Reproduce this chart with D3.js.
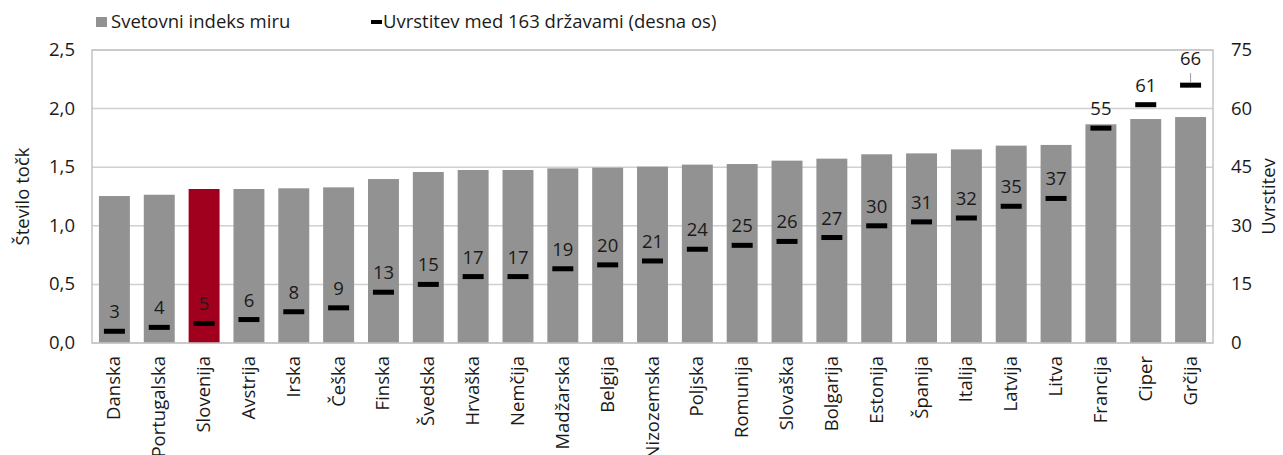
<!DOCTYPE html>
<html>
<head>
<meta charset="utf-8">
<script src="https://cdn.jsdelivr.net/npm/d3@7"></script>
<style>
  html, body { margin: 0; padding: 0; background: #fff; }
  svg { display: block; font-family: "Open Sans", "Noto Sans", sans-serif; }
</style>
</head>
<body>
<div id="chart"></div>
<script>
// Svetovni indeks miru in uvrstitev (EU države)
const countries = ['Danska', 'Portugalska', 'Slovenija', 'Avstrija', 'Irska', 'Češka', 'Finska', 'Švedska',
    'Hrvaška', 'Nemčija', 'Madžarska', 'Belgija', 'Nizozemska', 'Poljska', 'Romunija', 'Slovaška',
    'Bolgarija', 'Estonija', 'Španija', 'Italija', 'Latvija', 'Litva', 'Francija', 'Ciper', 'Grčija'];
const indexValues = [1.254, 1.265, 1.314, 1.314, 1.32, 1.328, 1.399, 1.459,
    1.476, 1.476, 1.49, 1.496, 1.505, 1.522, 1.527, 1.556,
    1.573, 1.61, 1.618, 1.652, 1.684, 1.69, 1.866, 1.911, 1.928];
const ranks = [3, 4, 5, 6, 8, 9, 13, 15, 17, 17, 19, 20, 21, 24, 25, 26, 27, 30, 31, 32, 35, 37, 55, 61, 66];
const leftTicks = [0, 0.5, 1.0, 1.5, 2.0, 2.5];
const rightTicks = [0, 15, 30, 45, 60, 75];
const highlight = 'Slovenija';

const width = 1283, height = 455;
const margin = {top: 50, right: 70, bottom: 112, left: 92};
const plotW = width - margin.left - margin.right;
const plotH = height - margin.top - margin.bottom;
const fs = '18.5px';

const svg = d3.select('#chart').append('svg')
    .attr('width', width)
    .attr('height', height);

const x = d3.scaleBand().domain(countries).range([margin.left, margin.left + plotW]).paddingInner(0.31).paddingOuter(0.155);
const yL = d3.scaleLinear().domain([0, 2.5]).range([margin.top + plotH, margin.top]);
const yR = d3.scaleLinear().domain([0, 75]).range([margin.top + plotH, margin.top]);

const fmt = d => d3.format('.1f')(d).replace('.', ',');

// gridlines
svg.append('g')
    .selectAll('line')
    .data(leftTicks)
    .enter()
    .append('line')
    .attr('x1', margin.left)
    .attr('x2', margin.left + plotW)
    .attr('y1', d => yL(d))
    .attr('y2', d => yL(d))
    .attr('stroke', '#d0d0d0')
    .attr('stroke-width', 1.5);

// bars
svg.append('g')
    .selectAll('rect')
    .data(countries)
    .enter()
    .append('rect')
    .attr('x', d => x(d))
    .attr('width', x.bandwidth())
    .attr('y', (d, i) => yL(indexValues[i]))
    .attr('height', (d, i) => yL(0) - yL(indexValues[i]))
    .attr('fill', d => d === highlight ? '#a0001e' : '#929292');

// plot frame
svg.append('rect')
    .attr('x', margin.left)
    .attr('y', margin.top)
    .attr('width', plotW)
    .attr('height', plotH)
    .attr('fill', 'none')
    .attr('stroke', '#c4c4c4')
    .attr('stroke-width', 1.5);

// rank markers
const dashW = 21;
svg.append('g')
    .selectAll('rect')
    .data(countries)
    .enter()
    .append('rect')
    .attr('x', d => x(d) + x.bandwidth() / 2 - dashW / 2)
    .attr('y', (d, i) => yR(ranks[i]) - 2.5)
    .attr('width', dashW)
    .attr('height', 5)
    .attr('fill', '#000');

// rank labels (last one lifted with a leader line)
const labelG = svg.append('g')
    .attr('font-size', fs)
    .attr('fill', '#1a1a1a')
    .attr('text-anchor', 'middle');

countries.forEach((c, i) => {
    const cx = x(c) + x.bandwidth() / 2;
    const my = yR(ranks[i]);
    const lifted = i === countries.length - 1;
    const off = lifted ? 20 : 13;
    labelG.append('text')
        .attr('x', cx)
        .attr('y', my - off)
        .text(ranks[i]);
    if (lifted) {
        svg.append('line')
            .attr('x1', cx).attr('x2', cx)
            .attr('y1', my - 12).attr('y2', my - 3)
            .attr('stroke', '#999')
            .attr('stroke-width', 1);
    }
});

// left axis labels
svg.append('g')
    .selectAll('text')
    .data(leftTicks)
    .enter()
    .append('text')
    .attr('x', 75)
    .attr('y', d => yL(d) + 6)
    .attr('text-anchor', 'end')
    .attr('font-size', fs)
    .attr('fill', '#1a1a1a')
    .text(fmt);

// right axis labels
svg.append('g')
    .selectAll('text')
    .data(rightTicks)
    .enter()
    .append('text')
    .attr('x', 1231)
    .attr('y', d => yR(d) + 6)
    .attr('text-anchor', 'start')
    .attr('font-size', fs)
    .attr('fill', '#1a1a1a')
    .text(d => d);

// axis titles
svg.append('text')
    .attr('transform', `translate(29, ${margin.top + plotH / 2}) rotate(-90)`)
    .attr('text-anchor', 'middle')
    .attr('font-size', fs)
    .attr('fill', '#1a1a1a')
    .text('Število točk');

svg.append('text')
    .attr('transform', `translate(1275, ${margin.top + plotH / 2}) rotate(-90)`)
    .attr('text-anchor', 'middle')
    .attr('font-size', fs)
    .attr('fill', '#1a1a1a')
    .text('Uvrstitev');

// category labels
svg.append('g')
    .selectAll('text')
    .data(countries)
    .enter()
    .append('text')
    .attr('transform', d => `translate(${x(d) + x.bandwidth() / 2 + 6}, ${margin.top + plotH + 13}) rotate(-90)`)
    .attr('text-anchor', 'end')
    .attr('font-size', fs)
    .attr('fill', '#1a1a1a')
    .text(d => d);

// legend
const legend = svg.append('g').attr('font-size', fs).attr('fill', '#1a1a1a');
legend.append('rect').attr('x', 96).attr('y', 17).attr('width', 11).attr('height', 10).attr('fill', '#929292');
legend.append('text').attr('x', 111).attr('y', 28).text('Svetovni indeks miru');
legend.append('rect').attr('x', 371).attr('y', 20).attr('width', 11).attr('height', 4).attr('fill', '#000');
legend.append('text').attr('x', 383).attr('y', 28).text('Uvrstitev med 163 državami (desna os)');
</script>
</body>
</html>
